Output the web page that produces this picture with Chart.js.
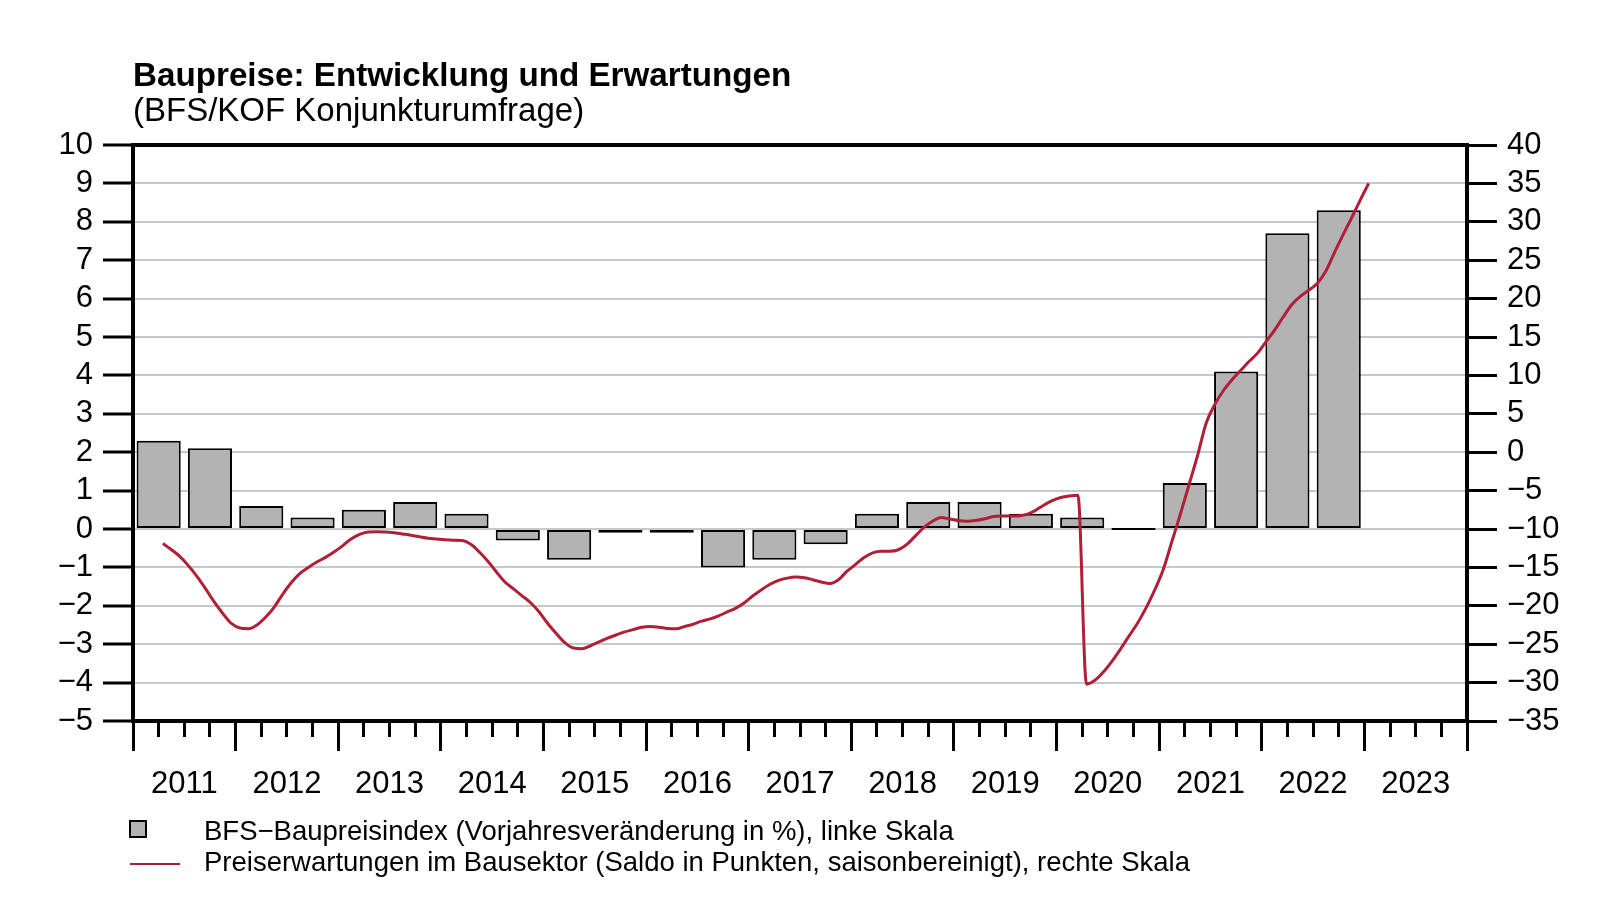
<!DOCTYPE html>
<html lang="de">
<head>
<meta charset="utf-8">
<title>Baupreise: Entwicklung und Erwartungen</title>
<script src="https://cdn.jsdelivr.net/npm/chart.js@4.4.1/dist/chart.umd.min.js"></script>
<style>
  html, body { margin: 0; padding: 0; background: #fff; }
  body { width: 1600px; height: 919px; position: relative; overflow: hidden;
         font-family: "Liberation Sans", Arial, Helvetica, sans-serif; color: #000; }
  #wrap { position: absolute; left: 0; top: 0; width: 1600px; height: 919px; }
  .txt { position: absolute; white-space: nowrap; line-height: 1; }
  .title { left: 133px; top: 58px; font-size: 33.2px; font-weight: bold; }
  .subtitle { left: 133px; top: 93px; font-size: 33px; }
  .leg { left: 204px; font-size: 27.5px; }
  .swatch-box { position: absolute; left: 129px; top: 820px; width: 18px; height: 18px;
                box-sizing: border-box; border: 2px solid #000; background: #b3b3b3; }
  .swatch-line { position: absolute; left: 130px; top: 863px; width: 50px; height: 2px; background: #a61d33; }
</style>
</head>
<body>
<div id="wrap"><canvas id="chart"></canvas></div>
<div class="txt title">Baupreise: Entwicklung und Erwartungen</div>
<div class="txt subtitle">(BFS/KOF Konjunkturumfrage)</div>
<div class="swatch-box"></div>
<div class="txt leg" style="top:817px">BFS−Baupreisindex (Vorjahresveränderung in %), linke Skala</div>
<div class="swatch-line"></div>
<div class="txt leg" style="top:848px">Preiserwartungen im Bausektor (Saldo in Punkten, saisonbereinigt), rechte Skala</div>
<script>
// half-year periods of the BFS construction price index (y/y change in %)
const barPeriods = [
  '2011-H1', '2011-H2', '2012-H1', '2012-H2', '2013-H1', '2013-H2',
  '2014-H1', '2014-H2', '2015-H1', '2015-H2', '2016-H1', '2016-H2',
  '2017-H1', '2017-H2', '2018-H1', '2018-H2', '2019-H1', '2019-H2',
  '2020-H1', '2020-H2', '2021-H1', '2021-H2', '2022-H1', '2022-H2'
];
const barValues = [
  2.3, 2.1, 0.6, 0.3, 0.5, 0.7,
  0.4, -0.3, -0.8, -0.1, -0.1, -1.0,
  -0.8, -0.4, 0.4, 0.7, 0.7, 0.4,
  0.3, 0.0, 1.2, 4.1, 7.7, 8.3
];

// monthly price expectations (balance, seasonally adjusted), from April 2011
const lineStart = { year: 2011, month: 4 };
const lineValues = [
  -11.9, -12.7, -13.6, -14.8, -16.2, -17.8, -19.5, -21.0, -22.3,
  -22.9, -23.0, -22.5, -21.5, -20.2, -18.5, -17.0, -15.8, -15.0, -14.3, -13.7, -13.0,
  -12.2, -11.3, -10.7, -10.4, -10.35, -10.4, -10.5, -10.65, -10.8, -11.0, -11.2, -11.3,
  -11.4, -11.45, -11.5, -12.0, -13.0, -14.2, -15.6, -16.9, -17.8, -18.7, -19.6, -20.8,
  -22.3, -23.6, -24.8, -25.5, -25.6, -25.2, -24.7, -24.2, -23.8, -23.4, -23.1, -22.8,
  -22.7, -22.8, -22.95, -23.0, -22.7, -22.4, -22.0, -21.7, -21.3, -20.8, -20.3, -19.6,
  -18.7, -17.9, -17.2, -16.7, -16.4, -16.25, -16.35, -16.6, -16.9, -17.1, -16.6, -15.5,
  -14.6, -13.7, -13.1, -12.9, -12.9, -12.7, -12.0, -10.9, -9.8, -9.0, -8.5, -8.7,
  -8.9, -9.0, -8.9, -8.7, -8.4, -8.3, -8.3, -8.3, -8.1, -7.6, -6.9, -6.3,
  -5.9, -5.7, -5.6, -30.2, -29.7, -28.6, -27.2, -25.6, -23.9, -22.2, -20.2, -17.9,
  -15.2, -11.6, -8.0, -4.2, -0.4, 3.8, 6.2, 8.0, 9.4, 10.6, 11.8, 12.9,
  14.4, 15.9, 17.6, 19.2, 20.3, 21.1, 22.0, 23.6, 26.0, 28.3, 30.5, 32.8,
  35.0
];

// axes
const yearLabels = ['2011', '2012', '2013', '2014', '2015', '2016', '2017',
                    '2018', '2019', '2020', '2021', '2022', '2023'];
const leftTicks = [-5, -4, -3, -2, -1, 0, 1, 2, 3, 4, 5, 6, 7, 8, 9, 10];
const rightTicks = [-35, -30, -25, -20, -15, -10, -5, 0, 5, 10, 15, 20, 25, 30, 35, 40];

const firstYear = Number(yearLabels[0]);
const lastYear = Number(yearLabels[yearLabels.length - 1]) + 1;
const leftTop = leftTicks[leftTicks.length - 1];

const periodToX = p => {
  const [y, h] = p.split('-');
  return Number(y) + (h === 'H1' ? 0.25 : 0.75);
};
const monthToX = i => {
  const m = lineStart.month - 1 + i;
  return lineStart.year + (m + 0.5) / 12;
};
const fmt = v => (v < 0 ? '\u2212' + Math.abs(v) : String(v));

const barData = barPeriods.map((p, i) => ({ x: periodToX(p), y: barValues[i] }));
const lineData = lineValues.map((v, i) => ({ x: monthToX(i), y: v }));

const tickFont = { family: '"Liberation Sans", Arial, sans-serif', size: 31 };

new Chart(document.getElementById('chart'), {
  data: {
    datasets: [
      {
        type: 'line',
        label: 'Preiserwartungen im Bausektor',
        data: lineData,
        xAxisID: 'x',
        yAxisID: 'y2',
        borderColor: '#b01f37',
        borderWidth: 3,
        pointRadius: 0,
        cubicInterpolationMode: 'monotone',
        fill: false
      },
      {
        type: 'bar',
        label: 'BFS-Baupreisindex',
        data: barData,
        xAxisID: 'xMajor',
        yAxisID: 'y',
        backgroundColor: '#b3b3b3',
        borderColor: '#000',
        borderWidth: 2,
        borderSkipped: false,
        minBarLength: 2,
        grouped: false,
        categoryPercentage: 1,
        barPercentage: 0.86
      }
    ]
  },
  options: {
    responsive: true,
    maintainAspectRatio: false,
    animation: false,
    layout: { padding: { top: 145, left: 0, right: 0, bottom: 0 } },
    plugins: {
      legend: { display: false },
      tooltip: { enabled: false },
      title: { display: false }
    },
    scales: {
      x: {
        type: 'linear',
        position: 'bottom',
        offset: false,
        min: firstYear,
        max: lastYear,
        ticks: {
          stepSize: 0.25,
          autoSkip: false,
          maxRotation: 0,
          minRotation: 0,
          padding: 29,
          color: '#000',
          font: tickFont,
          callback: v => {
            const idx = Math.floor(v) - firstYear;
            return Math.abs(v - Math.floor(v) - 0.5) < 1e-6 ? yearLabels[idx] : '';
          }
        },
        grid: { drawOnChartArea: false, offset: false, tickColor: '#000', tickWidth: 3, tickLength: 16 },
        border: { color: '#000', width: 4 },
        afterFit: s => { s.height = 198; }
      },
      xMajor: {
        type: 'linear',
        axis: 'x',
        position: { y: leftTicks[0] },
        offset: false,
        min: firstYear,
        max: lastYear,
        ticks: { stepSize: 1, display: false, autoSkip: false },
        grid: { drawOnChartArea: false, offset: false, tickColor: '#000', tickWidth: 3, tickLength: 30 },
        border: { display: false }
      },
      y: {
        position: 'left',
        min: leftTicks[0],
        max: leftTop,
        ticks: { stepSize: 1, autoSkip: false, padding: 10, color: '#000', font: tickFont, callback: v => fmt(v) },
        grid: {
          color: c => (c.tick && c.tick.value === leftTop ? '#000' : '#c8c8c8'),
          lineWidth: c => (c.tick && c.tick.value === leftTop ? 4 : 2),
          tickColor: '#000',
          tickWidth: 3,
          tickLength: 30
        },
        border: { color: '#000', width: 4 },
        afterFit: s => { s.width = 133; }
      },
      y2: {
        position: 'right',
        min: rightTicks[0],
        max: rightTicks[rightTicks.length - 1],
        ticks: { stepSize: 5, autoSkip: false, padding: 10, color: '#000', font: tickFont, callback: v => fmt(v) },
        grid: { drawOnChartArea: false, tickColor: '#000', tickWidth: 3, tickLength: 30 },
        border: { color: '#000', width: 4 },
        afterFit: s => { s.width = 133; }
      }
    }
  }
});
</script>
</body>
</html>
